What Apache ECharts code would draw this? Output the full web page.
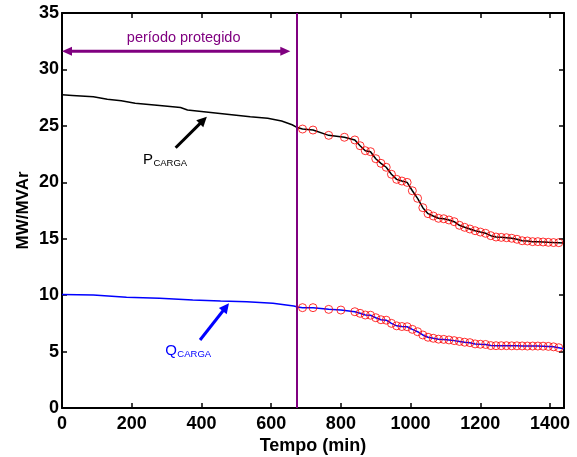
<!DOCTYPE html>
<html><head><meta charset="utf-8">
<script src="https://cdn.jsdelivr.net/npm/echarts@6/dist/echarts.min.js"></script>
<style>html,body{margin:0;padding:0;background:#fff}#c{width:577px;height:457px}</style>
</head><body><div id="c"></div>
<script>
// ---- data (minutes, MW / MVAr) ----
const xTickStep = 200;           // 0,200,...,1400
const yTickStep = 5;             // 0,5,...,35
const xMax = 1440;
const yMax = 35;

// continuous load curves (before markers start)
const pPreTimes  = [0, 30, 90, 130, 170, 210, 280, 340, 360, 420, 480, 540, 590, 630, 660, 675];
const pPreValues = [27.75, 27.7, 27.58, 27.35, 27.22, 27.0, 26.8, 26.62, 26.4, 26.2, 26.0, 25.8, 25.67, 25.43, 25.1, 24.85];
const qPreTimes  = [0, 90, 185, 280, 375, 455, 530, 605, 665, 676];
const qPreValues = [10.05, 10.01, 9.81, 9.72, 9.57, 9.48, 9.42, 9.28, 9.04, 8.95];

// sampled points (red circles)
const pMarkTimes = [690, 720, 765, 810, 840, 855, 870, 885, 900, 915, 930, 945, 960, 975, 990, 1005, 1020, 1035, 1050, 1065,
  1080, 1095, 1110, 1125, 1140, 1155, 1170, 1185, 1200, 1215, 1230, 1245, 1260, 1275, 1290, 1305, 1320, 1335, 1350, 1365,
  1380, 1395, 1410, 1425];
const pMarkValues = [24.72, 24.63, 24.16, 23.99, 23.75, 23.24, 22.8, 22.71, 22.09, 21.68, 21.33, 20.71, 20.26, 20.11, 19.99, 19.25, 18.58, 17.75, 17.22, 17.01,
  16.81, 16.77, 16.66, 16.51, 16.19, 16.01, 15.86, 15.71, 15.59, 15.48, 15.27, 15.15, 15.12, 15.09, 15.04, 14.95, 14.82, 14.8, 14.74, 14.74,
  14.71, 14.68, 14.66, 14.65];
const qMarkTimes = [690, 720, 765, 800, 840, 855, 870, 885, 900, 915, 930, 945, 960, 975, 990, 1005, 1020, 1035, 1050, 1065,
  1080, 1095, 1110, 1125, 1140, 1155, 1170, 1185, 1200, 1215, 1230, 1245, 1260, 1275, 1290, 1305, 1320, 1335, 1350, 1365,
  1380, 1395, 1410, 1425];
const qMarkValues = [8.89, 8.89, 8.74, 8.68, 8.53, 8.39, 8.24, 8.22, 8.0, 7.82, 7.78, 7.5, 7.28, 7.22, 7.2, 6.97, 6.76, 6.47, 6.27, 6.18,
  6.1, 6.08, 6.03, 5.97, 5.9, 5.83, 5.79, 5.68, 5.65, 5.63, 5.53, 5.52, 5.52, 5.52, 5.51, 5.51, 5.5, 5.49, 5.49, 5.49,
  5.48, 5.46, 5.42, 5.34];
const pEnd = [1440, 14.62];
const qEnd = [1440, 5.25];

// annotations (data coordinates)
const protectEnd = 672;                 // vertical line
const protectArrowY = 31.6;
const protectArrowX = [0, 655];
const protectText = 'período protegido';
const protectTextAt = [349, 32.8];
const pLabelAt = [232, 21.97];
const qLabelAt = [296, 5.09];
const pArrow = [[326, 23.06], [415.5, 25.81]];
const qArrow = [[396, 6.03], [479, 9.28]];

const zip = (t, v) => t.map((x, i) => [x, v[i]]);
const pLine = zip(pPreTimes, pPreValues).concat(zip(pMarkTimes, pMarkValues), [pEnd]);
const qLine = zip(qPreTimes, qPreValues).concat(zip(qMarkTimes, qMarkValues), [qEnd]);

const FONT = 'Liberation Sans, Arial, Helvetica, sans-serif';
const PURPLE = '#800080';
const chart = echarts.init(document.getElementById('c'), null, {renderer: 'canvas'});

const axisCommon = {
  type: 'value',
  axisLine: {show: true, onZero: false, lineStyle: {color: '#000', width: 2}},
  axisTick: {show: true, inside: true, length: 5, lineStyle: {color: '#000', width: 1.5}},
  splitLine: {show: false}
};
const labelStyle = {color: '#000', fontSize: 18, fontWeight: 'bold', fontFamily: FONT, formatter: (v) => String(v)};

chart.setOption({
  animation: false,
  backgroundColor: '#fff',
  grid: {left: 62, right: 13, top: 13, bottom: 49, containLabel: false, outerBoundsMode: 'none'},
  xAxis: [
    Object.assign({}, axisCommon, {position: 'bottom', min: 0, max: xMax, interval: xTickStep,
      axisLabel: Object.assign({margin: 7, showMaxLabel: false}, labelStyle),
      name: 'Tempo (min)', nameLocation: 'middle', nameGap: 29, nameMoveOverlap: false,
      nameTextStyle: {color: '#000', fontSize: 18, fontWeight: 'bold', fontFamily: FONT}}),
    Object.assign({}, axisCommon, {position: 'top', min: 0, max: xMax, interval: xTickStep, axisLabel: {show: false}})
  ],
  yAxis: [
    Object.assign({}, axisCommon, {position: 'left', min: 0, max: yMax, interval: yTickStep,
      axisLabel: Object.assign({margin: 3}, labelStyle),
      name: 'MW/MVAr', nameLocation: 'middle', nameGap: 30, nameMoveOverlap: false,
      nameTextStyle: {color: '#000', fontSize: 17, fontWeight: 'bold', fontFamily: FONT}}),
    Object.assign({}, axisCommon, {position: 'right', min: 0, max: yMax, interval: yTickStep, axisLabel: {show: false}})
  ],
  series: [
    {type: 'line', data: pLine, showSymbol: false, symbol: 'none', lineStyle: {color: '#000', width: 1.5}, z: 3,
      markLine: {silent: true, symbol: 'none', label: {show: false},
        lineStyle: {color: PURPLE, width: 2, type: 'solid'}, data: [{xAxis: protectEnd}]}},
    {type: 'line', data: qLine, showSymbol: false, symbol: 'none', lineStyle: {color: '#0000ff', width: 1.5}, z: 3},
    {type: 'scatter', data: zip(pMarkTimes, pMarkValues), symbol: 'circle', symbolSize: 8,
      itemStyle: {color: 'rgba(0,0,0,0)', borderColor: '#ff0000', borderWidth: 1}, z: 4},
    {type: 'scatter', data: zip(qMarkTimes, qMarkValues), symbol: 'circle', symbolSize: 8,
      itemStyle: {color: 'rgba(0,0,0,0)', borderColor: '#ff0000', borderWidth: 1}, z: 4}
  ]
});

// annotation graphics (positioned from data coordinates)
const px = (pt) => chart.convertToPixel({xAxisIndex: 0, yAxisIndex: 0}, pt);
function arrowHead(tip, from, color, L, W) {
  const dx = tip[0] - from[0], dy = tip[1] - from[1];
  const len = Math.hypot(dx, dy), ux = dx / len, uy = dy / len;
  const bx = tip[0] - ux * L, by = tip[1] - uy * L;
  return {type: 'polygon', z: 10, shape: {points: [tip, [bx - uy * W, by + ux * W], [bx + uy * W, by - ux * W]]},
    style: {fill: color}};
}
function arrow(a, b, color, width, L, W) {
  const A = px(a), B = px(b);
  const dx = B[0] - A[0], dy = B[1] - A[1], len = Math.hypot(dx, dy);
  const E = [B[0] - dx / len * (L * 0.8), B[1] - dy / len * (L * 0.8)];
  return [
    {type: 'line', z: 10, shape: {x1: A[0], y1: A[1], x2: E[0], y2: E[1]}, style: {stroke: color, lineWidth: width}},
    arrowHead(B, A, color, L, W)
  ];
}
function subLabel(at, main, sub, color) {
  const P = px(at);
  const w = echarts.format.getTextRect ? echarts.format.getTextRect(main, '15px ' + FONT).width : 10;
  return [
    {type: 'text', z: 10, style: {text: main, x: P[0], y: P[1], fill: color, font: '15px ' + FONT, textAlign: 'left', textVerticalAlign: 'middle'}},
    {type: 'text', z: 10, style: {text: sub, x: P[0] + w + 0.5, y: P[1] + 3.5, fill: color, font: '9.5px ' + FONT, textAlign: 'left', textVerticalAlign: 'middle'}}
  ];
}
const L0 = px([protectArrowX[0], protectArrowY]), L1 = px([protectArrowX[1], protectArrowY]);
const graphics = [
  {type: 'line', z: 10, shape: {x1: L0[0] + 6, y1: L0[1], x2: L1[0] - 6, y2: L1[1]}, style: {stroke: PURPLE, lineWidth: 3}},
  arrowHead(L1, L0, PURPLE, 10, 4.5),
  arrowHead(L0, L1, PURPLE, 10, 4.5),
  (function () { const T = px(protectTextAt); return {type: 'text', z: 10, style: {text: protectText, x: T[0], y: T[1], fill: PURPLE, font: '14.5px ' + FONT, textAlign: 'center', textVerticalAlign: 'middle'}}; })()
].concat(
  arrow(pArrow[0], pArrow[1], '#000', 3, 10, 5),
  arrow(qArrow[0], qArrow[1], '#0000ff', 3, 10, 5),
  subLabel(pLabelAt, 'P', 'CARGA', '#000'),
  subLabel(qLabelAt, 'Q', 'CARGA', '#0000ff')
);
chart.setOption({graphic: graphics});
</script>
</body></html>
